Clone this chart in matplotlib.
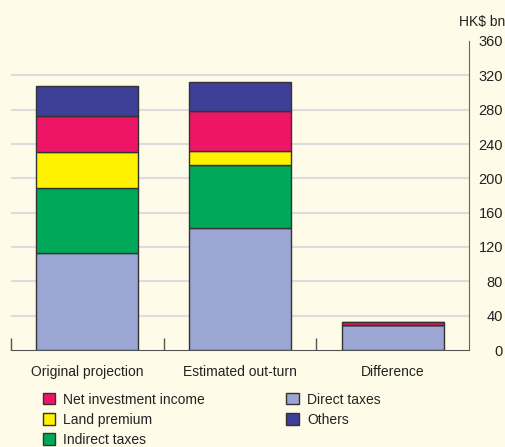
import matplotlib.pyplot as plt
import numpy as np

plt.rcParams['font.family'] = ['Liberation Sans', 'DejaVu Sans']

categories = ['Original projection', 'Estimated out-turn', 'Difference']
direct_taxes = [113, 142, 29]
indirect_taxes = [76, 74, 0]
land_premium = [42, 16, 0]
net_investment = [42, 47, 4]
others = [34, 33, 0]
yticks = [0, 40, 80, 120, 160, 200, 240, 280, 320, 360]

bg = '#FEFBE8'
fig = plt.figure(figsize=(5.06, 4.47), dpi=100, facecolor=bg)
ax = fig.add_axes([11 / 506, 97 / 447, 458 / 506, 309 / 447])
ax.set_facecolor(bg)

x = np.arange(len(categories))
w = 0.67
series = [
    ('Direct taxes', direct_taxes, '#9BA6D2'),
    ('Indirect taxes', indirect_taxes, '#00A85A'),
    ('Land premium', land_premium, '#FFF200'),
    ('Net investment income', net_investment, '#EE1566'),
    ('Others', others, '#3E3F97'),
]
bottom = np.zeros(len(categories))
handles = {}
for name, vals, col in series:
    vals = np.array(vals, dtype=float)
    bars = ax.bar(x, vals, w, bottom=bottom, color=col, edgecolor='#333333',
                  linewidth=1, zorder=3)
    handles[name] = bars
    bottom += vals

for t in yticks[1:-1]:
    ax.axhline(t, color='#DCDCDC', lw=1.5, zorder=1)

ax.set_xlim(-0.5, 2.5)
ax.set_ylim(0, 360)
ax.yaxis.tick_right()
ax.set_yticks(yticks)
ax.tick_params(axis='y', length=0, pad=24.5, labelsize=10.5, labelcolor='#222222')
for lbl in ax.get_yticklabels():
    lbl.set_horizontalalignment('right')

ax.set_xticks(x)
ax.set_xticklabels(categories)
ax.tick_params(axis='x', which='major', length=0, pad=11, labelsize=10,
               labelcolor='#222222')
ax.set_xticks([-0.5, 0.5, 1.5], minor=True)
ax.tick_params(axis='x', which='minor', direction='in', length=9,
               color='#555555', width=1)

for s in ['left', 'top']:
    ax.spines[s].set_visible(False)
ax.spines['right'].set_color('#666666')
ax.spines['bottom'].set_color('#555555')

fig.text(505 / 506, 1 - 22 / 447, 'HK$ bn', ha='right', va='center',
         fontsize=10, color='#222222')

order = ['Net investment income', 'Land premium', 'Indirect taxes',
         'Direct taxes', 'Others']
fig.legend([handles[n] for n in order], order, ncol=2, frameon=False,
           loc='upper left', bbox_to_anchor=(30 / 506, 1 - 380 / 447),
           fontsize=10, handlelength=0.9, handleheight=0.9,
           handletextpad=0.6, columnspacing=5.85, labelspacing=0.45,
           labelcolor='#222222')

fig.savefig('out.png', dpi=100, facecolor=bg)
